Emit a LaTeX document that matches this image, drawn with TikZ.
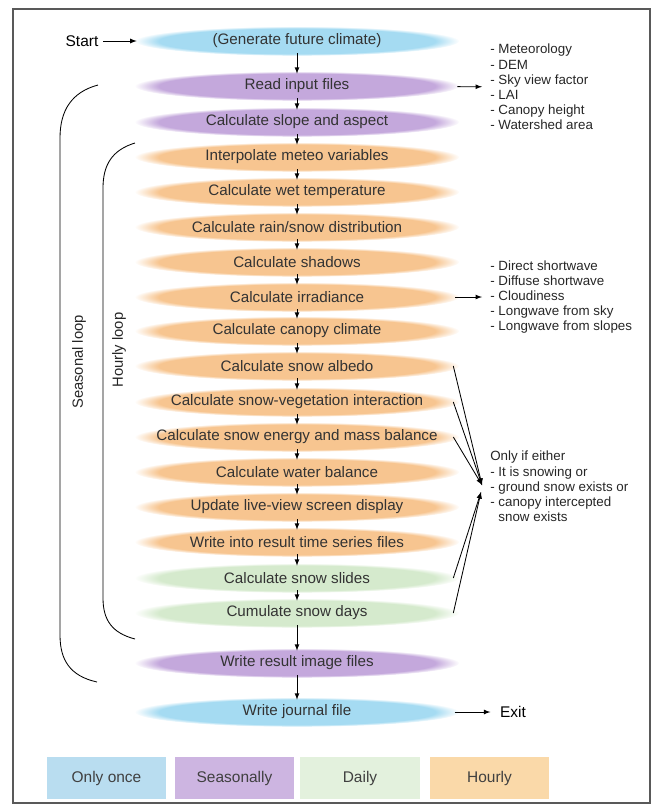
\documentclass[tikz,border=0pt]{standalone}
\usepackage{fontspec}
\setmainfont{Liberation Sans}
\usetikzlibrary{fadings}

\definecolor{oncecol}{HTML}{A5DBF2}
\definecolor{seasoncol}{HTML}{C4A8DC}
\definecolor{dailycol}{HTML}{D5EACD}
\definecolor{hourcol}{HTML}{F7C590}
\definecolor{oncekey}{HTML}{B9DDF0}
\definecolor{seasonkey}{HTML}{CDB5E1}
\definecolor{dailykey}{HTML}{E3F1DD}
\definecolor{hourkey}{HTML}{FAD9A9}

\tikzset{
    stepnode/.style={minimum width=7.8cm, minimum height=0.6cm, inner sep=0pt,
        text=black!80, font=\fontsize{10.8}{13}\selectfont},
    blob/.style={fill=#1, path fading=circle with fuzzy edge 15 percent},
    flow/.style={-latex, line width=0.6pt},
    listtext/.style={align=left, inner sep=0pt, text=black!85,
        font=\fontsize{9.5}{10.8}\selectfont},
    keybox/.style={fill=#1, minimum width=2.98cm, minimum height=1.07cm,
        text=black!75, font=\fontsize{11}{13}\selectfont},
    loopline/.style={line width=0.6pt}
}

\begin{document}
\begin{tikzpicture}[x=0.025cm, y=-0.025cm]
    \useasboundingbox (0,0) rectangle (653,805);
    \draw[black!65, line width=0.9pt] (13,9) rectangle (650,803);

    \foreach \n/\y/\c/\t in {
        gen/41/oncecol/{(Generate future climate)},
        read/86/seasoncol/{Read input files},
        slope/122/seasoncol/{Calculate slope and aspect},
        interp/157/hourcol/{Interpolate meteo variables},
        wet/192/hourcol/{Calculate wet temperature},
        rain/227/hourcol/{Calculate rain/snow distribution},
        shadow/262/hourcol/{Calculate shadows},
        irr/297/hourcol/{Calculate irradiance},
        canopy/331/hourcol/{Calculate canopy climate},
        albedo/366/hourcol/{Calculate snow albedo},
        veg/402/hourcol/{Calculate snow-vegetation interaction},
        energy/437/hourcol/{Calculate snow energy and mass balance},
        water/472/hourcol/{Calculate water balance},
        update/507/hourcol/{Update live-view screen display},
        writets/542/hourcol/{Write into result time series files},
        slides/578/dailycol/{Calculate snow slides},
        days/613/dailycol/{Cumulate snow days},
        writeimg/663/seasoncol/{Write result image files},
        journal/712/oncecol/{Write journal file}} {
        \fill[blob=\c] (297,\y) ellipse (4.05cm and 0.37cm);
        \node[stepnode] (\n) at (297,\y) {\t};
    }

    \foreach \a/\b in {gen/read, read/slope, slope/interp, interp/wet, wet/rain,
        rain/shadow, shadow/irr, irr/canopy, canopy/albedo, albedo/veg, veg/energy,
        energy/water, water/update, update/writets, writets/slides, slides/days,
        days/writeimg, writeimg/journal}
        \draw[flow] (\a) -- (\b);

    \node[font=\fontsize{11}{13}\selectfont] (start) at (82,41) {Start};
    \draw[flow, shorten >=0.1cm] (start) -- (gen);
    \node[font=\fontsize{11}{13}\selectfont] (exit) at (513,712) {Exit};
    \draw[flow, shorten <=0.03cm, shorten >=0.12cm] (journal) -- (exit);

    \node[listtext, anchor=west] (inlist) at (490,87) {- Meteorology\\- DEM\\- Sky view factor\\- LAI\\- Canopy height\\- Watershed area};
    \draw[flow, shorten <=0.1cm, shorten >=0.2cm] (read) -- (inlist);
    \node[listtext, anchor=west] (radlist) at (490,297) {- Direct shortwave\\- Diffuse shortwave\\- Cloudiness\\- Longwave from sky\\- Longwave from slopes};
    \draw[flow, shorten <=0.05cm, shorten >=0.2cm] (irr) -- (radlist);

    \node[listtext, anchor=north west] (onlyif) at (490,451) {Only if either\\- It is snowing or\\- ground snow exists or\\- canopy intercepted\\\phantom{- }snow exists};
    \coordinate (meetA) at (482,485);
    \coordinate (meetB) at (481,492);
    \foreach \n in {albedo, veg, energy}
        \draw[flow] (\n.east) -- (meetA);
    \foreach \n in {slides, days}
        \draw[flow] (\n.east) -- (meetB);

    \draw[loopline] (98,85) .. controls (72,92) and (60,110) .. (60,138) -- (60,635)
        .. controls (60,660) and (70,676) .. (97,682);
    \draw[loopline] (135,143) .. controls (112,150) and (103,165) .. (103,188) -- (103,598)
        .. controls (103,620) and (112,633) .. (135,639);
    \node[rotate=90, font=\fontsize{10.5}{12}\selectfont, text=black!85] (seasonlbl) at (79,362) {Seasonal loop};
    \node[rotate=90, font=\fontsize{10.5}{12}\selectfont, text=black!85] (hourlbl) at (119,350) {Hourly loop};

    \node[keybox=oncekey] (konce) at (106.5,778) {Only once};
    \node[keybox=seasonkey] (kseason) at (234.5,778) {Seasonally};
    \node[keybox=dailykey] (kdaily) at (360,778) {Daily};
    \node[keybox=hourkey] (khour) at (489.5,778) {Hourly};
\end{tikzpicture}
\end{document}
